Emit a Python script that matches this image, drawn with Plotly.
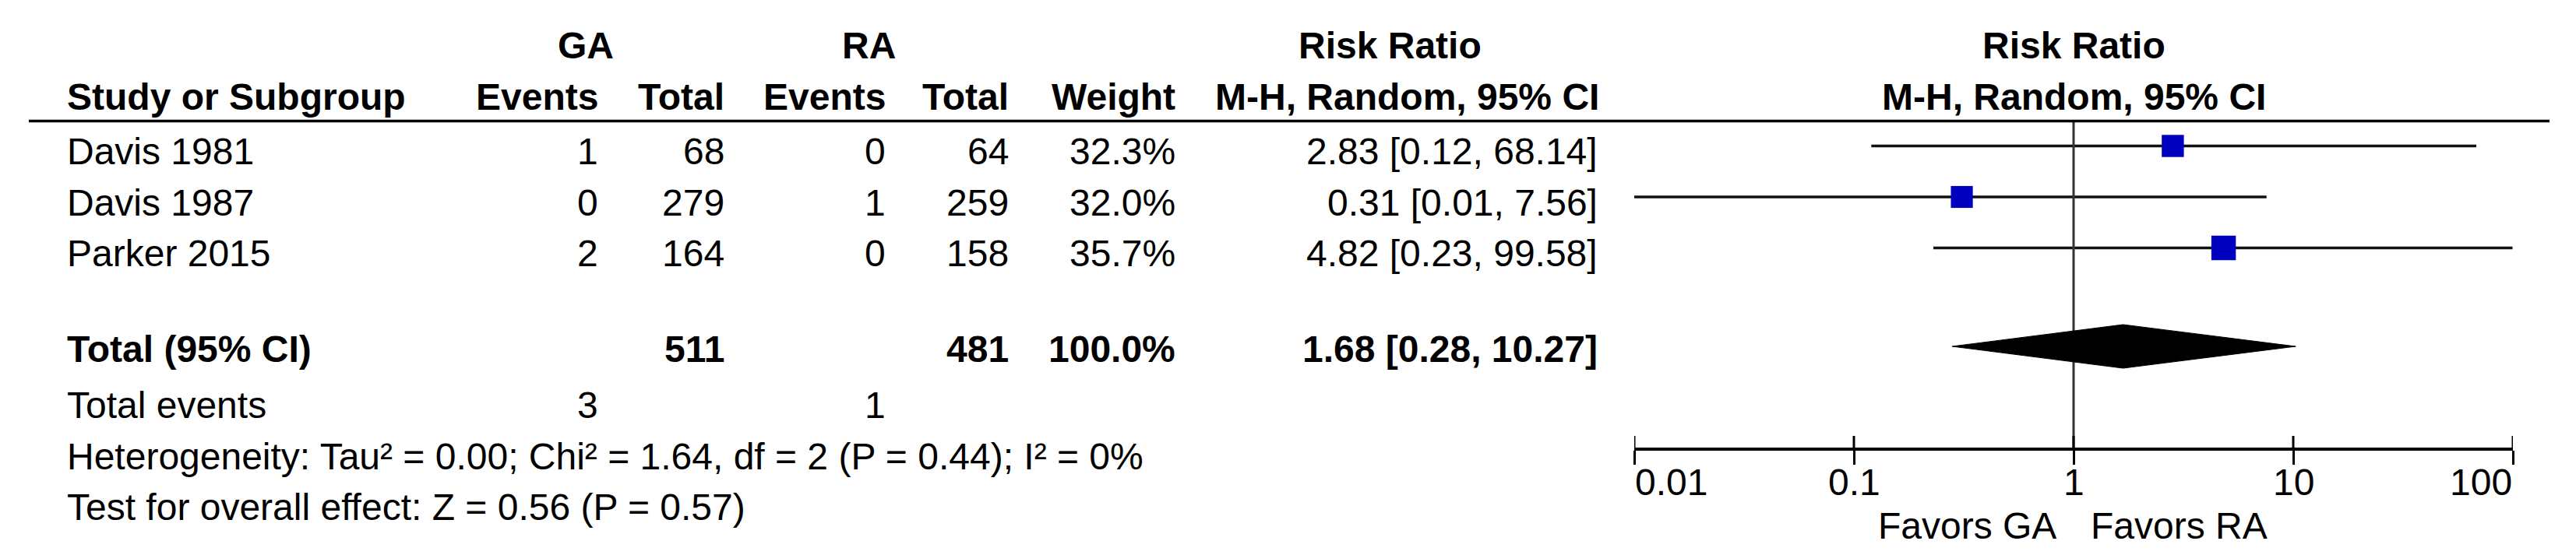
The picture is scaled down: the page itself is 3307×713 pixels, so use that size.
import math
import plotly.graph_objects as go

# ---------------- data ----------------
studies = ["Davis 1981", "Davis 1987", "Parker 2015"]
ga_events = [1, 0, 2]
ga_total = [68, 279, 164]
ra_events = [0, 1, 0]
ra_total = [64, 259, 158]
weights = [32.3, 32.0, 35.7]
rr = [2.83, 0.31, 4.82]
ci_low = [0.12, 0.01, 0.23]
ci_high = [68.14, 7.56, 99.58]

total_label = "Total (95% CI)"
total_ga = 511
total_ra = 481
total_weight = 100.0
pooled_rr = 1.68
pooled_low = 0.28
pooled_high = 10.27
events_ga = 3
events_ra = 1
heterogeneity = "Heterogeneity: Tau² = 0.00; Chi² = 1.64, df = 2 (P = 0.44); I² = 0%"
overall = "Test for overall effect: Z = 0.56 (P = 0.57)"

tick_vals = [0.01, 0.1, 1, 10, 100]
tick_text = ["0.01", "0.1", "1", "10", "100"]
favors = ["Favors GA", "Favors RA"]

# ---------------- layout helpers ----------------
W, H = 3307, 713
FONT = "Liberation Sans, Arial, sans-serif"
FS = 48
ROW0_PX = 179.5
ROW_H = 65.5


def row_of(px):
    return (px - ROW0_PX) / ROW_H


def txt(text, x_px, y_px, anchor="left", bold=False, size=FS):
    return dict(
        text=f"<b>{text}</b>" if bold else text,
        x=x_px / W, y=1 - y_px / H, xref="paper", yref="paper",
        xanchor=anchor, yanchor="middle", showarrow=False, borderpad=0,
        font=dict(family=FONT, size=size, color="black"),
    )


# column anchors (pixels)
STUDY_L = 77
GA_EV_R, GA_TOT_R = 761, 923
RA_EV_R, RA_TOT_R = 1130, 1288
WEIGHT_R = 1502
CI_R = 2044
PLOT_L, PLOT_R = 2090, 3218
AXIS_PX = 569
RULE_PX = 147.5

diamond_row = row_of(437)
diamond_half = 28 / ROW_H
axis_row = row_of(AXIS_PX)

fig = go.Figure()

# CI lines
xs, ys = [], []
for i in range(len(studies)):
    xs += [ci_low[i], ci_high[i], None]
    ys += [i, i, None]
fig.add_trace(go.Scatter(x=xs, y=ys, mode="lines",
                         line=dict(color="#111111", width=3.5), hoverinfo="skip"))

# null line
fig.add_trace(go.Scatter(x=[1, 1], y=[row_of(RULE_PX), axis_row], mode="lines",
                         line=dict(color="#333333", width=3), hoverinfo="skip"))

# study markers
fig.add_trace(go.Scatter(
    x=rr, y=list(range(len(studies))), mode="markers",
    marker=dict(symbol="square", size=[0.88 * w for w in weights],
                color="#0000BF", opacity=1, line=dict(width=0)),
    hoverinfo="skip"))

# pooled diamond
fig.add_trace(go.Scatter(
    x=[pooled_low, pooled_rr, pooled_high, pooled_rr, pooled_low],
    y=[diamond_row, diamond_row - diamond_half, diamond_row,
       diamond_row + diamond_half, diamond_row],
    mode="lines", fill="toself", fillcolor="black",
    line=dict(color="black", width=1), hoverinfo="skip"))

# upper halves of axis ticks
tx, ty = [], []
for t in tick_vals:
    tx += [t, t, None]
    ty += [axis_row, axis_row - 17 / ROW_H, None]
fig.add_trace(go.Scatter(x=tx, y=ty, mode="lines",
                         line=dict(color="black", width=3), hoverinfo="skip"))

ann = []
# headers
ann.append(txt("GA", 744, 50, "center", True))
ann.append(txt("RA", 1107, 50, "center", True))
ann.append(txt("Risk Ratio", 1777, 50, "center", True))
ann.append(txt("Risk Ratio", 2654, 50, "center", True))
ann.append(txt("Study or Subgroup", STUDY_L, 116, "left", True))
ann.append(txt("Events", GA_EV_R, 116, "right", True))
ann.append(txt("Total", GA_TOT_R, 116, "right", True))
ann.append(txt("Events", RA_EV_R, 116, "right", True))
ann.append(txt("Total", RA_TOT_R, 116, "right", True))
ann.append(txt("Weight", WEIGHT_R, 116, "right", True))
ann.append(txt("M-H, Random, 95% CI", 2046, 116, "right", True))
ann.append(txt("M-H, Random, 95% CI", 2654, 116, "center", True))

# study rows
for i, s in enumerate(studies):
    ypx = ROW0_PX + ROW_H * i + 7
    ann.append(txt(s, STUDY_L, ypx, "left"))
    ann.append(txt(str(ga_events[i]), GA_EV_R, ypx, "right"))
    ann.append(txt(str(ga_total[i]), GA_TOT_R, ypx, "right"))
    ann.append(txt(str(ra_events[i]), RA_EV_R, ypx, "right"))
    ann.append(txt(str(ra_total[i]), RA_TOT_R, ypx, "right"))
    ann.append(txt(f"{weights[i]:.1f}%", WEIGHT_R, ypx, "right"))
    ann.append(txt(f"{rr[i]:.2f} [{ci_low[i]:.2f}, {ci_high[i]:.2f}]", CI_R, ypx, "right"))

# total row
ann.append(txt(total_label, STUDY_L, 440, "left", True))
ann.append(txt(str(total_ga), GA_TOT_R, 440, "right", True))
ann.append(txt(str(total_ra), RA_TOT_R, 440, "right", True))
ann.append(txt(f"{total_weight:.1f}%", WEIGHT_R, 440, "right", True))
ann.append(txt(f"{pooled_rr:.2f} [{pooled_low:.2f}, {pooled_high:.2f}]", CI_R, 440, "right", True))

ann.append(txt("Total events", STUDY_L, 512, "left"))
ann.append(txt(str(events_ga), GA_EV_R, 512, "right"))
ann.append(txt(str(events_ra), RA_EV_R, 512, "right"))
ann.append(txt(heterogeneity, STUDY_L, 578, "left"))
ann.append(txt(overall, STUDY_L, 643, "left"))

# tick labels
anchors = ["left", "center", "center", "center", "right"]
for t, lab, a in zip(tick_vals, tick_text, anchors):
    ann.append(dict(text=lab, x=math.log10(t), xref="x", y=1 - 611 / H, yref="paper",
                    xanchor=a, yanchor="middle", showarrow=False, borderpad=0,
                    font=dict(family=FONT, size=FS, color="black")))

# favours labels
ann.append(dict(text=favors[0], x=0, xref="x", xshift=-21, y=1 - 667 / H, yref="paper",
                xanchor="right", yanchor="middle", showarrow=False, borderpad=0,
                font=dict(family=FONT, size=FS, color="black")))
ann.append(dict(text=favors[1], x=0, xref="x", xshift=21, y=1 - 667 / H, yref="paper",
                xanchor="left", yanchor="middle", showarrow=False, borderpad=0,
                font=dict(family=FONT, size=FS, color="black")))

fig.update_layout(
    width=W, height=H,
    margin=dict(l=0, r=0, t=0, b=0),
    paper_bgcolor="white", plot_bgcolor="white",
    showlegend=False,
    annotations=ann,
    shapes=[dict(type="line", xref="paper", yref="paper",
                 x0=29 / W, x1=3265 / W, y0=1 - RULE_PX / H, y1=1 - RULE_PX / H,
                 line=dict(color="black", width=3.5))],
    xaxis=dict(type="log", range=[math.log10(tick_vals[0]), math.log10(tick_vals[-1])],
               domain=[PLOT_L / W, PLOT_R / W], anchor="free", position=1 - AXIS_PX / H,
               showline=True, linecolor="black", linewidth=3.5,
               ticks="outside", ticklen=18, tickwidth=3, tickcolor="black",
               tickvals=tick_vals, showticklabels=False,
               showgrid=False, zeroline=False, fixedrange=True),
    yaxis=dict(range=[row_of(H), row_of(0)], domain=[0, 1], visible=False,
               showgrid=False, zeroline=False, fixedrange=True),
)

fig.write_html("out.html")
